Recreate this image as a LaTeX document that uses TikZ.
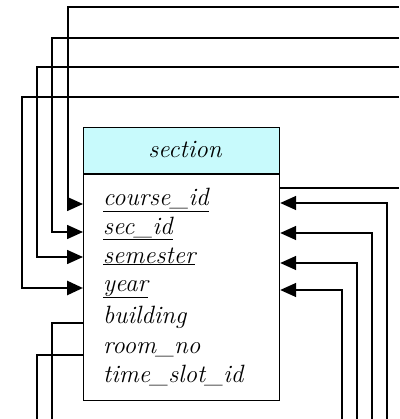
\documentclass[tikz,border=0pt]{standalone}
\usepackage{fontspec}
\setmainfont{Latin Modern Roman}
\usetikzlibrary{arrows.meta,calc}
\definecolor{hdrfill}{RGB}{200,250,252}
\begin{document}
\begin{tikzpicture}[x=1pt,y=-1pt,
  wire/.style={line width=1.6pt},
  heavy/.style={line width=2.8pt},
  tip/.style={-{Triangle[length=16pt,width=14pt]}},
  txt/.style={font=\fontsize{25}{30}\selectfont\itshape},
  attr/.style={txt,anchor=base west,inner sep=0pt},
  tbl/.style={draw,line width=1.2pt,anchor=north west,inner sep=0pt,minimum width=196pt}]
\useasboundingbox (0,0) rectangle (399,419);

% the relation box
\node[tbl,fill=hdrfill,minimum height=46pt] (hdr) at (83,127) {};
\node[txt,anchor=base] (title) at (185,158) {section};
\node[tbl,minimum height=226pt] (body) at (hdr.south west) {};

% attributes
\node[attr] (cid)  at (103,206) {\underline{course\_id}};
\node[attr] (sid)  at (103,234) {\underline{sec\_id}};
\node[attr] (sem)  at (103,263) {\underline{semester}};
\node[attr] (yr)   at (103,291) {\underline{year}};
\node[attr] (bld)  at (103,323) {building};
\node[attr] (room) at (103,353) {room\_no};
\node[attr] (slot) at (103,382) {time\_slot\_id};

% connection points on the box
\coordinate (cidL) at ($(cid.base -| body.west)+(0,-2)$);
\coordinate (sidL) at ($(sid.base -| body.west)+(0,-2)$);
\coordinate (semL) at ($(sem.base -| body.west)+(0,-6)$);
\coordinate (yrL)  at ($(yr.base -| body.west)+(0,-3)$);
\coordinate (cidR) at ($(cid.base -| body.east)+(0,-3)$);
\coordinate (sidR) at ($(sid.base -| body.east)+(0,-1)$);
\coordinate (semR) at ($(sem.base -| body.east)+(0,0)$);
\coordinate (yrR)  at ($(yr.base -| body.east)+(0,-1)$);
\coordinate (bldL) at ($(bld.base -| body.west)$);
\coordinate (roomL) at ($(room.base -| body.west)+(0,2)$);
\coordinate (outR) at (body.east |- 0,188);

% loose ends at the picture edges and corners
\coordinate (t1) at (399,7);  \coordinate (k1) at (68,7);
\coordinate (t2) at (399,38); \coordinate (k2) at (52,38);
\coordinate (t3) at (399,67); \coordinate (k3) at (37,67);
\coordinate (t4) at (399,97); \coordinate (k4) at (22,97);
\coordinate (b1) at (387,419);
\coordinate (b2) at (372,419);
\coordinate (b3) at (357,419);
\coordinate (b4) at (342,419);
\coordinate (b5) at (52,419);
\coordinate (b6) at (37,419);
\coordinate (e1) at (399,188);

% incoming references on the left
\draw[wire,tip] (t1) -- (k1) |- (cidL);
\draw[wire,tip] (t2) -- (k2) |- (sidL);
\draw[wire,tip] (t3) -- (k3) |- (semL);
\draw[heavy,tip] (t4) -- (k4) |- (yrL);

% incoming references on the right
\draw[wire,tip] (b1) |- (cidR);
\draw[wire,tip] (b2) |- (sidR);
\draw[wire,tip] (b3) |- (semR);
\draw[wire,tip] (b4) |- (yrR);

% outgoing lines
\draw[heavy] (outR) -- (e1);
\draw[wire] (bldL) -| (b5);
\draw[wire] (roomL) -| (b6);
\end{tikzpicture}
\end{document}
